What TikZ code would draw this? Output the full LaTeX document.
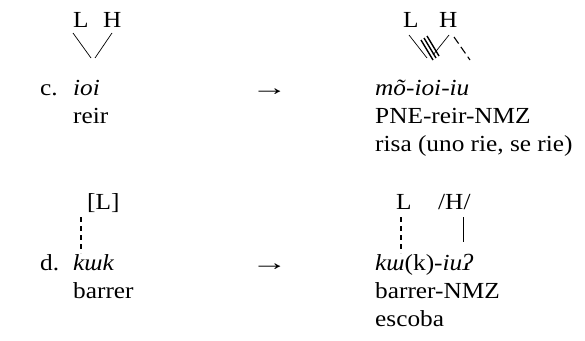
\documentclass[tikz,border=0pt]{standalone}
\usepackage{fontspec}
\usepackage{graphicx}
\setmainfont{Liberation Serif}[FakeStretch=1.1]
\begin{document}
\begin{tikzpicture}[x=1pt,y=-1pt,
  txt/.style={anchor=base west,inner sep=0pt,font=\fontsize{23}{26}\selectfont},
  assoc/.style={line width=0.7pt},
  dashassoc/.style={line width=1.3pt,dash pattern=on 5pt off 4pt},
  delink/.style={line width=1.4pt}]
\useasboundingbox (0,0) rectangle (585,340);
% row c
\node[txt] (cL) at (73,27) {L};
\node[txt] (cH) at (103,27) {H};
\node[txt] (cc) at (40,95) {c.};
\node[txt] (cioi) at (73,95) {\itshape ioi};
\node[txt] (creir) at (73,123) {reir};
\node[txt] (carr) at (251,95) {\scalebox{1.45}[1]{→}};
\node[txt] (cRL) at (403,27) {L};
\node[txt] (cRH) at (439,27) {H};
\node[txt] (cmo) at (375,95) {\itshape mõ-ioi-iu};
\node[txt] (cpne) at (375,123) {PNE-reir-NMZ};
\node[txt] (crisa) at (375,151) {risa (uno rie, se rie)};
\coordinate (a1) at (73,33); \coordinate (a2) at (91,58);
\coordinate (b1) at (112,33); \coordinate (b2) at (95,58);
\draw[assoc] (a1) -- (a2);
\draw[assoc] (b1) -- (b2);
\coordinate (c1) at (409,35); \coordinate (c2) at (427,58);
\coordinate (d1) at (449,35); \coordinate (d2) at (433,55);
\draw[assoc] (c1) -- (c2);
\draw[assoc] (d1) -- (d2);
\coordinate (e1) at (421,40); \coordinate (e2) at (433,60);
\coordinate (f1) at (424,38); \coordinate (f2) at (436,58);
\coordinate (g1) at (427,36); \coordinate (g2) at (439,56);
\draw[delink] (e1) -- (e2);
\draw[delink] (f1) -- (f2);
\draw[delink] (g1) -- (g2);
\coordinate (h1) at (454,37); \coordinate (h2) at (470,60);
\draw[line width=1.1pt,dash pattern=on 8pt off 4pt] (h1) -- (h2);
% row d
\node[txt] (dL) at (87,209) {[L]};
\node[txt] (dd) at (40,270) {d.};
\node[txt] (dkuk) at (73,270) {\itshape kɯk};
\node[txt] (dbar) at (73,298) {barrer};
\node[txt] (darr) at (251,270) {\scalebox{1.45}[1]{→}};
\node[txt] (dRL) at (396,209) {L};
\node[txt] (dRH) at (438,209) {/H/};
\node[txt] (dku) at (375,270) {\itshape kɯ\upshape(k)\itshape-iuʔ};
\node[txt] (dbn) at (375,298) {barrer-NMZ};
\node[txt] (desc) at (375,326) {escoba};
\coordinate (i1) at (81,217); \coordinate (i2) at (81,253);
\draw[dashassoc] (i1) -- (i2);
\coordinate (j1) at (401,217); \coordinate (j2) at (401,253);
\draw[dashassoc] (j1) -- (j2);
\coordinate (k1) at (463,217); \coordinate (k2) at (463,242);
\draw[assoc] (k1) -- (k2);
\end{tikzpicture}
\end{document}
